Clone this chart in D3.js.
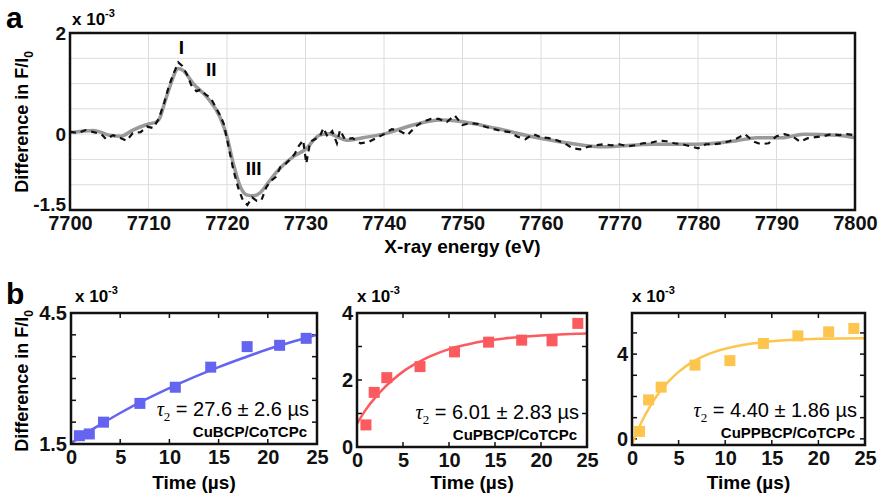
<!DOCTYPE html>
<html>
<head>
<meta charset="utf-8">
<script src="https://cdn.jsdelivr.net/npm/d3@7"></script>
<style>
  body { margin: 0; background: #fff; }
  text { font-family: Arial, "Liberation Sans", sans-serif; }
</style>
</head>
<body>
<div id="chart"></div>
<script>
// ---- panel a: X-ray energy spectrum (values x 10^-3) ----
const energyTicks = [7700, 7710, 7720, 7730, 7740, 7750, 7760, 7770, 7780, 7790, 7800];
const diffGrid = [-1.5, -1, -0.5, 0, 0.5, 1, 1.5, 2];
const diffLabels = [-1.5, 0, 2];

// smoothed (grey) curve
const energyFit = [7700, 7703, 7705, 7706.5, 7708, 7710, 7711, 7711.5, 7711.9, 7712.7, 7713.8, 7714.4, 7715.7, 7717.4, 7719.1, 7720, 7720.8, 7721.7, 7722.5, 7723.3, 7724.2, 7725.3, 7726.3, 7728.4, 7730, 7731.8, 7733.1, 7734, 7735.2, 7737.3, 7739.9, 7743.7, 7747.1, 7749.3, 7754.4, 7758.6, 7763.7, 7767.9, 7774.3, 7779.8, 7784.9, 7787.5, 7790.9, 7793.4, 7797.7, 7800];
const diffFit = [0.03, 0.07, -0.02, -0.04, 0.08, 0.2, 0.24, 0.34, 0.54, 0.93, 1.3, 1.26, 1.0, 0.74, 0.34, -0.05, -0.58, -1.04, -1.2, -1.22, -1.16, -0.95, -0.75, -0.45, -0.3, -0.02, 0.01, -0.05, -0.12, -0.07, 0.0, 0.18, 0.28, 0.26, 0.11, -0.04, -0.18, -0.25, -0.2, -0.2, -0.13, -0.07, -0.07, 0.0, -0.02, -0.07];

// measured (dashed) data
const energyData = [7700, 7701, 7702, 7703, 7704, 7704.6, 7705.5, 7706.5, 7707.2, 7708, 7709, 7709.8, 7710.6, 7711.3, 7712, 7712.6, 7713.2, 7713.8, 7714.3, 7714.9, 7715.5, 7716.1, 7716.7, 7717.3, 7717.9, 7718.5, 7719.1, 7719.6, 7720.2, 7720.8, 7721.4, 7722, 7722.6, 7723.2, 7723.8, 7724.4, 7725, 7725.6, 7726.2, 7726.8, 7727.4, 7728, 7728.6, 7729.2, 7729.7, 7730.1, 7730.6, 7731.2, 7731.8, 7732.3, 7732.8, 7733.4, 7734, 7734.4, 7735, 7736, 7737, 7738, 7739, 7740, 7741, 7742, 7743, 7744, 7745, 7746, 7747, 7748, 7749, 7750, 7751, 7752, 7753, 7754, 7755, 7756, 7757, 7758, 7759, 7760, 7761, 7762, 7763, 7764, 7765, 7766, 7767, 7768, 7769, 7770, 7771, 7772, 7773, 7774, 7775, 7776, 7777, 7778, 7779, 7780, 7781, 7782, 7783, 7784, 7785, 7786, 7787, 7788, 7789, 7790, 7791, 7792, 7793, 7794, 7795, 7796, 7797, 7798, 7799, 7800];
const diffData = [0.05, 0.02, 0.08, 0.04, 0.0, -0.1, -0.02, -0.08, -0.13, 0.02, 0.04, 0.15, 0.12, 0.3, 0.62, 0.95, 1.2, 1.42, 1.35, 1.18, 0.95, 0.85, 0.88, 0.78, 0.72, 0.55, 0.38, 0.2, -0.25, -0.7, -1.05, -1.3, -1.4, -1.25, -1.32, -1.3, -1.05, -0.92, -0.85, -0.65, -0.6, -0.5, -0.4, -0.22, -0.12, -0.58, -0.15, -0.1, -0.05, 0.12, -0.05, 0.06, -0.18, 0.08, -0.1, -0.08, -0.18, -0.16, -0.08, 0.0, 0.1, 0.06, -0.02, 0.15, 0.25, 0.3, 0.3, 0.24, 0.37, 0.18, 0.22, 0.2, 0.14, 0.1, 0.06, 0.04, -0.05, -0.1, 0.0, -0.06, -0.08, -0.12, -0.18, -0.28, -0.3, -0.25, -0.22, -0.2, -0.22, -0.2, -0.24, -0.22, -0.18, -0.17, -0.13, -0.14, -0.18, -0.2, -0.24, -0.28, -0.2, -0.2, -0.18, -0.14, -0.08, 0.0, -0.14, -0.2, -0.18, -0.04, 0.0, -0.04, -0.15, -0.08, -0.06, -0.04, 0.0, -0.02, 0.0, -0.02];

const peakNames = ["I", "II", "III"];
const peakEnergy = [7714.2, 7718, 7723.4];
const peakDiff = [1.58, 1.15, -0.8];

// ---- panel b: kinetics (values x 10^-3) ----
const timeTicks = [0, 5, 10, 15, 20, 25];

const bcpTime = [0.85, 1.86, 3.3, 7.0, 10.6, 14.2, 17.9, 21.2, 23.9];
const bcpDiff = [1.69, 1.73, 2.0, 2.43, 2.8, 3.26, 3.73, 3.76, 3.92];
const bcpFitTime = [0, 2.5, 5, 7.5, 10, 12.5, 15, 17.5, 20, 22.5, 25];
const bcpFitDiff = [1.52, 1.88, 2.21, 2.51, 2.78, 3.03, 3.26, 3.47, 3.67, 3.84, 4.0];

const pbcpTime = [0.97, 1.87, 3.24, 6.85, 10.6, 14.3, 17.9, 21.2, 24.0];
const pbcpDiff = [0.66, 1.63, 2.07, 2.4, 2.84, 3.13, 3.19, 3.17, 3.69];
const pbcpFitTime = [0, 1, 2, 3, 4, 5, 6, 7, 8, 10, 12, 14, 16, 18, 20, 22, 25];
const pbcpFitDiff = [0.7, 1.13, 1.48, 1.78, 2.03, 2.25, 2.43, 2.58, 2.71, 2.92, 3.06, 3.17, 3.24, 3.29, 3.33, 3.36, 3.39];

const ppbcpTime = [0.81, 1.78, 3.13, 6.76, 10.5, 14.1, 17.8, 21.1, 23.8];
const ppbcpDiff = [0.35, 1.84, 2.44, 3.48, 3.69, 4.5, 4.86, 5.05, 5.21];
const ppbcpFitTime = [0, 1, 2, 3, 4, 5, 6, 7, 8, 10, 12, 14, 16, 18, 20, 22, 25];
const ppbcpFitDiff = [-0.25, 0.77, 1.58, 2.23, 2.75, 3.16, 3.49, 3.75, 3.96, 4.25, 4.44, 4.56, 4.64, 4.69, 4.72, 4.74, 4.75];

const width = 878;
const height = 494;
const boldFont = "Arial, 'Liberation Sans', sans-serif";

const svg = d3.select("#chart")
  .append("svg")
  .attr("width", width)
  .attr("height", height);

// y title with subscript 0
function yTitle(x, y) {
  const t = svg.append("text")
    .attr("transform", `translate(${x},${y}) rotate(-90)`)
    .attr("text-anchor", "middle")
    .attr("font-size", 18)
    .attr("font-weight", "bold");
  t.append("tspan").text("Difference in F/I");
  t.append("tspan").attr("font-size", 12).attr("dy", 5).text("0");
}

function scaleNote(x, y) {
  const t = svg.append("text")
    .attr("x", x).attr("y", y)
    .attr("font-size", 17)
    .attr("font-weight", "bold");
  t.append("tspan").text("x 10");
  t.append("tspan").attr("font-size", 11).attr("dy", -8).text("-3");
}

function styleLabels(g, size) {
  g.select(".domain").remove();
  g.selectAll("text")
    .attr("font-size", size).attr("font-weight", "bold")
    .attr("font-family", boldFont).attr("fill", "#111");
}

// ================= panel a =================
const aLeft = 70, aRight = 855, aTop = 33, aBottom = 210;

const xA = d3.scaleLinear().domain([7700, 7800]).range([aLeft, aRight]);
const yA = d3.scaleLinear().domain([-1.5, 2]).range([aBottom, aTop]);

const gA = svg.append("g");

// grid
gA.append("g").selectAll("line")
  .data(energyTicks)
  .join("line")
  .attr("x1", (d) => xA(d)).attr("x2", (d) => xA(d))
  .attr("y1", aTop).attr("y2", aBottom)
  .attr("stroke", "#dcdcdc").attr("stroke-width", 1);

gA.append("g").selectAll("line")
  .data(diffGrid)
  .join("line")
  .attr("x1", aLeft).attr("x2", aRight)
  .attr("y1", (d) => yA(d)).attr("y2", (d) => yA(d))
  .attr("stroke", "#dcdcdc").attr("stroke-width", 1);

// axes (labels only, the grid does the ticks)
const xAxisA = d3.axisBottom(xA).tickValues(energyTicks).tickSize(0).tickPadding(6)
  .tickFormat((d) => d);
gA.append("g")
  .attr("transform", `translate(0,${aBottom})`)
  .call(xAxisA)
  .call((g) => styleLabels(g, 20));

const yAxisA = d3.axisLeft(yA).tickValues(diffLabels).tickSize(0).tickPadding(4)
  .tickFormat((d) => d);
gA.append("g")
  .attr("transform", `translate(${aLeft},0)`)
  .call(yAxisA)
  .call((g) => styleLabels(g, 19))
  .call((g) => g.selectAll("text").filter((d) => d === -1.5).attr("dy", "0.05em"));

// data lines
const spectrumData = energyData.map((e, i) => ({ e, v: diffData[i] }));
const spectrumFit = energyFit.map((e, i) => ({ e, v: diffFit[i] }));

gA.append("path")
  .datum(spectrumFit)
  .attr("fill", "none")
  .attr("stroke", "#9a9a9a")
  .attr("stroke-width", 3.5)
  .attr("d", d3.line().x((d) => xA(d.e)).y((d) => yA(d.v)).curve(d3.curveMonotoneX));

gA.append("path")
  .datum(spectrumData)
  .attr("fill", "none")
  .attr("stroke", "#111")
  .attr("stroke-width", 2.2)
  .attr("stroke-dasharray", "6,5")
  .attr("d", d3.line().x((d) => xA(d.e)).y((d) => yA(d.v)));

// frame
gA.append("rect")
  .attr("x", aLeft).attr("y", aTop)
  .attr("width", aRight - aLeft).attr("height", aBottom - aTop)
  .attr("fill", "none").attr("stroke", "#111").attr("stroke-width", 2.5);

// peak labels
gA.append("g").selectAll("text")
  .data(peakNames)
  .join("text")
  .attr("x", (d, i) => xA(peakEnergy[i]))
  .attr("y", (d, i) => yA(peakDiff[i]))
  .attr("text-anchor", "middle")
  .attr("font-size", 19).attr("font-weight", "bold")
  .text((d) => d);

svg.append("text")
  .attr("x", (aLeft + aRight) / 2).attr("y", 253)
  .attr("text-anchor", "middle")
  .attr("font-size", 19).attr("font-weight", "bold")
  .text("X-ray energy (eV)");

yTitle(28, 122);
scaleNote(72, 25);

svg.append("text").attr("x", 6).attr("y", 28)
  .attr("font-size", 30).attr("font-weight", "bold").text("a");

// ================= panel b =================
svg.append("text").attr("x", 6).attr("y", 304)
  .attr("font-size", 30).attr("font-weight", "bold").text("b");

yTitle(28, 381);

function kinetics(p) {
  const x = d3.scaleLinear().domain([0, 25]).range([p.left, p.right]);
  const y = d3.scaleLinear().domain(p.yDomain).range([p.bottom, p.top]);
  const g = svg.append("g");

  const tick = 5;
  // x ticks (inward, top and bottom)
  g.append("g").selectAll("line")
    .data(timeTicks)
    .join("line")
    .attr("x1", (d) => x(d)).attr("x2", (d) => x(d))
    .attr("y1", p.bottom).attr("y2", p.bottom - tick)
    .attr("stroke", "#111").attr("stroke-width", 1.5);
  g.append("g").selectAll("line")
    .data(timeTicks)
    .join("line")
    .attr("x1", (d) => x(d)).attr("x2", (d) => x(d))
    .attr("y1", p.top).attr("y2", p.top + tick)
    .attr("stroke", "#111").attr("stroke-width", 1.5);
  // y ticks (inward, left and right)
  g.append("g").selectAll("line")
    .data(p.yTicks)
    .join("line")
    .attr("x1", p.left).attr("x2", p.left + tick)
    .attr("y1", (d) => y(d)).attr("y2", (d) => y(d))
    .attr("stroke", "#111").attr("stroke-width", 1.5);
  g.append("g").selectAll("line")
    .data(p.yTicks)
    .join("line")
    .attr("x1", p.right).attr("x2", p.right - tick)
    .attr("y1", (d) => y(d)).attr("y2", (d) => y(d))
    .attr("stroke", "#111").attr("stroke-width", 1.5);

  const xAxis = d3.axisBottom(x).tickValues(timeTicks).tickSize(0).tickPadding(6);
  g.append("g")
    .attr("transform", `translate(0,${p.bottom})`)
    .call(xAxis)
    .call((s) => styleLabels(s, 20));

  const yAxis = d3.axisLeft(y).tickValues(p.yLabels).tickSize(0).tickPadding(4).tickFormat((d) => d);
  g.append("g")
    .attr("transform", `translate(${p.left},0)`)
    .call(yAxis)
    .call((s) => styleLabels(s, 20));

  // fit curve
  const fit = p.fitTime.map((t, i) => ({ t, v: p.fitDiff[i] }));
  g.append("path")
    .datum(fit)
    .attr("fill", "none")
    .attr("stroke", p.color)
    .attr("stroke-width", 2.5)
    .attr("d", d3.line().x((d) => x(d.t)).y((d) => y(d.v)).curve(d3.curveMonotoneX));

  // squares
  const size = 11;
  g.append("g").selectAll("rect")
    .data(p.time.map((t, i) => ({ t, v: p.diff[i] })))
    .join("rect")
    .attr("x", (d) => x(d.t) - size / 2)
    .attr("y", (d) => y(d.v) - size / 2)
    .attr("width", size).attr("height", size)
    .attr("fill", p.color);

  g.append("rect")
    .attr("x", p.left).attr("y", p.top)
    .attr("width", p.right - p.left).attr("height", p.bottom - p.top)
    .attr("fill", "none").attr("stroke", "#111").attr("stroke-width", 2.5);

  // tau annotation
  const tau = g.append("text")
    .attr("x", p.right - 8).attr("y", p.bottom - 28)
    .attr("text-anchor", "end")
    .attr("font-size", 20);
  tau.append("tspan")
    .attr("font-family", "'Liberation Serif', 'DejaVu Serif', serif")
    .attr("font-style", "italic").text("τ");
  tau.append("tspan")
    .attr("font-family", "'Liberation Serif', 'DejaVu Serif', serif")
    .attr("font-size", 13).attr("dy", 5).text("2");
  tau.append("tspan").attr("dy", -5).text(" = " + p.tau);

  g.append("text")
    .attr("x", p.right - 10).attr("y", p.bottom - 7)
    .attr("text-anchor", "end")
    .attr("font-size", 15).attr("font-weight", "bold")
    .text(p.name);

  svg.append("text")
    .attr("x", (p.left + p.right) / 2).attr("y", 489)
    .attr("text-anchor", "middle")
    .attr("font-size", 19).attr("font-weight", "bold")
    .text("Time (µs)");

  scaleNote(p.noteX, 302);
}

kinetics({
  left: 71, right: 317, top: 313, bottom: 444,
  yDomain: [1.5, 4.5], yTicks: [1.5, 2, 2.5, 3, 3.5, 4, 4.5], yLabels: [1.5, 4.5],
  time: bcpTime, diff: bcpDiff, fitTime: bcpFitTime, fitDiff: bcpFitDiff,
  color: "#6464f0", tau: "27.6 ± 2.6 µs", name: "CuBCP/CoTCPc", noteX: 75
});

kinetics({
  left: 357, right: 587, top: 313, bottom: 447,
  yDomain: [0, 4], yTicks: [0, 1, 2, 3, 4], yLabels: [0, 2, 4],
  time: pbcpTime, diff: pbcpDiff, fitTime: pbcpFitTime, fitDiff: pbcpFitDiff,
  color: "#fb5a5e", tau: "6.01 ± 2.83 µs", name: "CuPBCP/CoTCPc", noteX: 357
});

kinetics({
  left: 632, right: 865, top: 313, bottom: 445,
  yDomain: [-0.29, 5.94], yTicks: [0, 1, 2, 3, 4, 5], yLabels: [0, 4],
  time: ppbcpTime, diff: ppbcpDiff, fitTime: ppbcpFitTime, fitDiff: ppbcpFitDiff,
  color: "#fec54e", tau: "4.40 ± 1.86 µs", name: "CuPPBCP/CoTCPc", noteX: 632
});
</script>
</body>
</html>
